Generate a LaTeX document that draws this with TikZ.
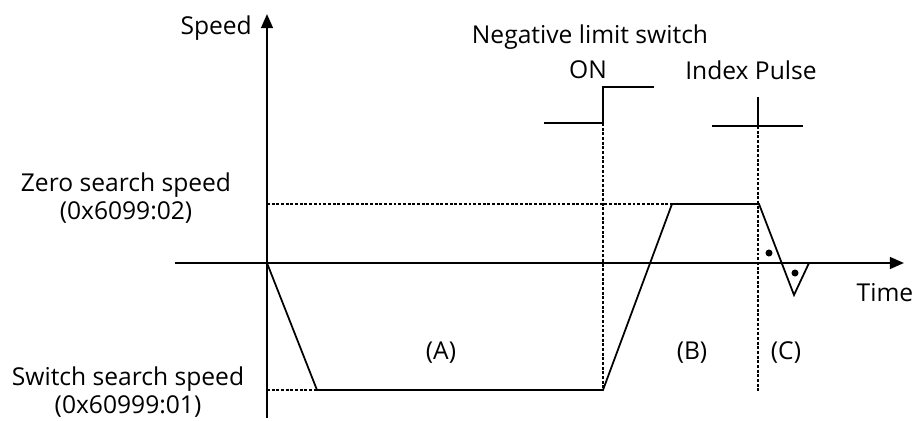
\documentclass[tikz,border=0pt]{standalone}
\usepackage{fontspec}
\setmainfont{Open Sans}
\usetikzlibrary{arrows.meta}
\begin{document}
\begin{tikzpicture}[x=0.03cm,y=-0.03cm,font=\fontsize{21}{24}\selectfont,
  >={Triangle[length=12pt,width=10pt]},
  axis/.style={line width=1.8pt},
  curve/.style={line width=1.5pt},
  guide/.style={line width=1pt,dash pattern=on 2.5pt off 1.5pt},
  lbl/.style={inner sep=0pt,align=center},
  dot/.style={circle,fill,inner sep=0pt,minimum size=6pt}]
\useasboundingbox (0,0) rectangle (917,421);
% axes
\coordinate (o) at (267,263);
\coordinate (ytop) at (267,14);
\coordinate (ybot) at (267,418);
\coordinate (xleft) at (175,263);
\coordinate (xright) at (904,263);
\draw[axis,->] (ybot) -- (ytop);
\draw[axis,->] (xleft) -- (xright);
% speed profile
\coordinate (p1) at (317,390);
\coordinate (p2) at (603,390);
\coordinate (p3) at (672,204);
\coordinate (p4) at (759,204);
\coordinate (p5) at (794,295);
\coordinate (p6) at (809,263);
\draw[curve] (o) -- (p1) -- (p2) -- (p3) -- (p4) -- (p5) -- (p6);
% speed levels
\coordinate (zlev) at (267,204);
\coordinate (slev) at (267,390);
\draw[guide] (zlev) -- (p3);
\draw[guide] (slev) -- (p1);
% limit switch signal
\coordinate (sw0) at (544,123);
\coordinate (sw1) at (603,123);
\coordinate (sw2) at (603,87);
\coordinate (sw3) at (654,87);
\draw[curve] (sw0) -- (sw1) -- (sw2) -- (sw3);
\draw[guide] (sw1) -- (p2);
% index pulse
\coordinate (ip0) at (712,126);
\coordinate (ip1) at (803,126);
\coordinate (ipc) at (758,126);
\coordinate (iptop) at (758,97);
\coordinate (ipbot) at (758,391);
\draw[curve] (ip0) -- (ip1);
\draw[curve] (iptop) -- (ipc);
\draw[guide] (ipc) -- (ipbot);
\node[dot] (d1) at (769,253) {};
\node[dot] (d2) at (795,273) {};
% labels
\node[lbl,anchor=east] (speed) at (252,28) {Speed};
\node[lbl] (time) at (885,293) {Time};
\node[lbl] (neg) at (590,37) {Negative limit switch};
\node[lbl] (on) at (588,70) {ON};
\node[lbl] (index) at (751,70) {Index Pulse};
\node[lbl] (zero) at (126,198) {Zero search speed\\(0x6099:02)};
\node[lbl] (swsp) at (128,392) {Switch search speed\\(0x60999:01)};
\node[lbl] (secA) at (441,353) {(A)};
\node[lbl] (secB) at (692,353) {(B)};
\node[lbl] (secC) at (786,353) {(C)};
\end{tikzpicture}
\end{document}
